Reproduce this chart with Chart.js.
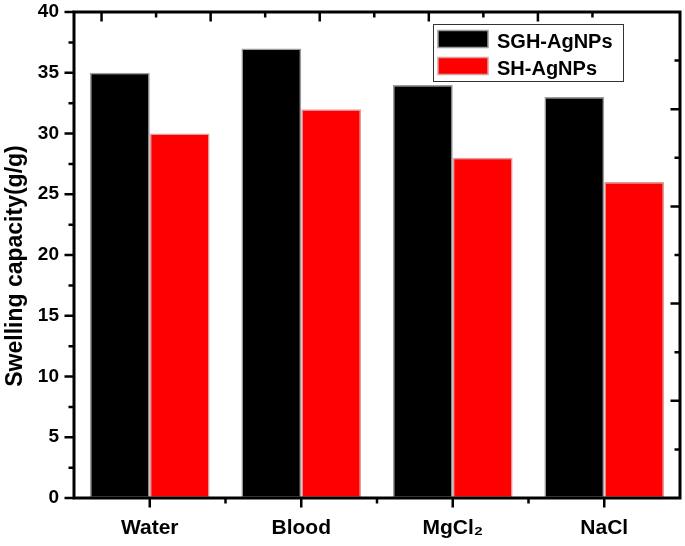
<!DOCTYPE html>
<html>
<head>
<meta charset="utf-8">
<script src="https://cdn.jsdelivr.net/npm/chart.js@4.4.1/dist/chart.umd.min.js"></script>
<style>
html, body { margin: 0; padding: 0; background: #fff; }
#chart { display: block; }
</style>
</head>
<body>
<canvas id="chart" width="685" height="546"></canvas>
<script>
var categories = ['Water', 'Blood', 'MgCl\u2082', 'NaCl'];
var seriesLabels = ['SGH-AgNPs', 'SH-AgNPs'];
var sghValues = [35, 37, 34, 33];
var shValues = [30, 32, 28, 26];
var yTicks = [0, 5, 10, 15, 20, 25, 30, 35, 40];
var yTitle = 'Swelling capacity(g/g)';

var FONT = '"Liberation Sans", Arial, sans-serif';

// frame + tick marks (Origin style: outward on left/bottom, inward on top/right)
var framePlugin = {
    id: 'frame',
    afterDraw: function(chart) {
        var ctx = chart.ctx;
        var a = chart.chartArea;
        var sx = chart.scales.x, sy = chart.scales.y;
        var st = chart.scales.xTop, sr = chart.scales.yRight;
        var half = 1.5, major = 8, minor = 4;

        ctx.save();
        ctx.strokeStyle = '#000';
        ctx.lineWidth = 2.5;
        ctx.beginPath();

        // left axis
        sy.ticks.forEach(function(t, i) {
            var py = sy.getPixelForValue(t.value);
            ctx.moveTo(a.left, py);
            ctx.lineTo(a.left - half - major, py);
            if (i < sy.ticks.length - 1) {
                var my = sy.getPixelForValue((t.value + sy.ticks[i + 1].value) / 2);
                ctx.moveTo(a.left, my);
                ctx.lineTo(a.left - half - minor, my);
            }
        });

        // bottom axis
        var w = sx.getPixelForValue(1) - sx.getPixelForValue(0);
        categories.forEach(function(c, i) {
            var px = sx.getPixelForValue(i);
            ctx.moveTo(px, a.bottom);
            ctx.lineTo(px, a.bottom + half + major);
            var bx = px - w / 2;
            if (bx > a.left + 3) {
                ctx.moveTo(bx, a.bottom);
                ctx.lineTo(bx, a.bottom + half + minor);
            }
        });

        // top axis (inward)
        st.ticks.forEach(function(t) {
            if (t.value !== Math.round(t.value)) return;
            var px = st.getPixelForValue(t.value);
            if (px < a.left + 3 || px > a.right - 3) return;
            var len = (Math.abs(t.value) % 2 === 1) ? major : minor;
            ctx.moveTo(px, a.top);
            ctx.lineTo(px, a.top + half + len);
        });

        // right axis (inward)
        sr.ticks.forEach(function(t) {
            var py = sr.getPixelForValue(t.value);
            if (py < a.top + 3 || py > a.bottom - 3) return;
            var len = (t.value % 2 === 0) ? major : minor;
            ctx.moveTo(a.right, py);
            ctx.lineTo(a.right - half - len, py);
        });
        ctx.stroke();

        ctx.lineWidth = 3;
        ctx.strokeRect(a.left, a.top, a.right - a.left, a.bottom - a.top);

        // y axis title
        ctx.translate(16, 266);
        ctx.rotate(-Math.PI / 2);
        ctx.fillStyle = '#000';
        ctx.font = 'bold 23px ' + FONT;
        ctx.textAlign = 'center';
        ctx.textBaseline = 'middle';
        ctx.fillText(yTitle, 0, 0);
        ctx.restore();
    }
};

// legend box inside the plot, top right
var legendPlugin = {
    id: 'boxLegend',
    afterDraw: function(chart) {
        var ctx = chart.ctx;
        var ds = chart.data.datasets;
        ctx.save();
        ctx.fillStyle = '#fff';
        ctx.fillRect(433.5, 24.5, 190, 57);
        ctx.strokeStyle = '#333';
        ctx.lineWidth = 1;
        ctx.strokeRect(433.5, 24.5, 190, 57);
        ds.forEach(function(d, i) {
            var top = 30.5 + i * 27;
            ctx.fillStyle = d.backgroundColor;
            ctx.fillRect(438, top, 50, 17);
            ctx.strokeStyle = d.borderColor;
            ctx.lineWidth = 1.5;
            ctx.strokeRect(438, top, 50, 17);
            ctx.fillStyle = '#000';
            ctx.font = 'bold 20px ' + FONT;
            ctx.textBaseline = 'alphabetic';
            ctx.textAlign = 'left';
            ctx.fillText(d.label, 497, top + 17);
        });
        ctx.restore();
    }
};

new Chart(document.getElementById('chart'), {
    type: 'bar',
    data: {
        labels: categories,
        datasets: [{
            label: seriesLabels[0],
            data: sghValues,
            backgroundColor: '#000000',
            borderColor: '#9c9c9c',
            borderWidth: 1.5,
            borderSkipped: false,
            xAxisID: 'x',
            yAxisID: 'y'
        }, {
            label: seriesLabels[1],
            data: shValues,
            backgroundColor: '#ff0000',
            borderColor: '#d9a0a0',
            borderWidth: 1.5,
            borderSkipped: false,
            xAxisID: 'x',
            yAxisID: 'y'
        }]
    },
    options: {
        responsive: false,
        animation: false,
        devicePixelRatio: 1,
        layout: { padding: 0 },
        datasets: {
            bar: { categoryPercentage: 0.79, barPercentage: 1.0 }
        },
        plugins: {
            legend: { display: false },
            tooltip: { enabled: false }
        },
        scales: {
            x: {
                type: 'category',
                position: 'bottom',
                offset: true,
                grid: { display: false, drawTicks: false },
                border: { display: false },
                ticks: {
                    color: '#000',
                    padding: 18,
                    maxRotation: 0,
                    font: { family: FONT, size: 21, weight: 'bold' }
                },
                afterFit: function(s) {
                    s.height = 48;
                    s.paddingLeft = 0;
                    s.paddingRight = 0;
                }
            },
            y: {
                type: 'linear',
                position: 'left',
                min: 0,
                max: 40,
                grid: { display: false, drawTicks: false },
                border: { display: false },
                afterBuildTicks: function(s) {
                    s.ticks = yTicks.map(function(v) { return { value: v }; });
                },
                ticks: {
                    color: '#000',
                    padding: 15,
                    font: { family: FONT, size: 19, weight: 'bold' }
                },
                afterFit: function(s) {
                    s.width = 74;
                    s.paddingTop = 0;
                    s.paddingBottom = 0;
                }
            },
            xTop: {
                type: 'linear',
                position: 'top',
                min: -1,
                max: 9.1,
                grid: { display: false, drawTicks: false },
                border: { display: false },
                ticks: { display: false, stepSize: 1 },
                afterFit: function(s) { s.height = 12; }
            },
            yRight: {
                type: 'linear',
                position: 'right',
                min: 0,
                max: 10,
                grid: { display: false, drawTicks: false },
                border: { display: false },
                ticks: { display: false, stepSize: 1 },
                afterFit: function(s) { s.width = 5; }
            }
        }
    },
    plugins: [framePlugin, legendPlugin]
});
</script>
</body>
</html>
